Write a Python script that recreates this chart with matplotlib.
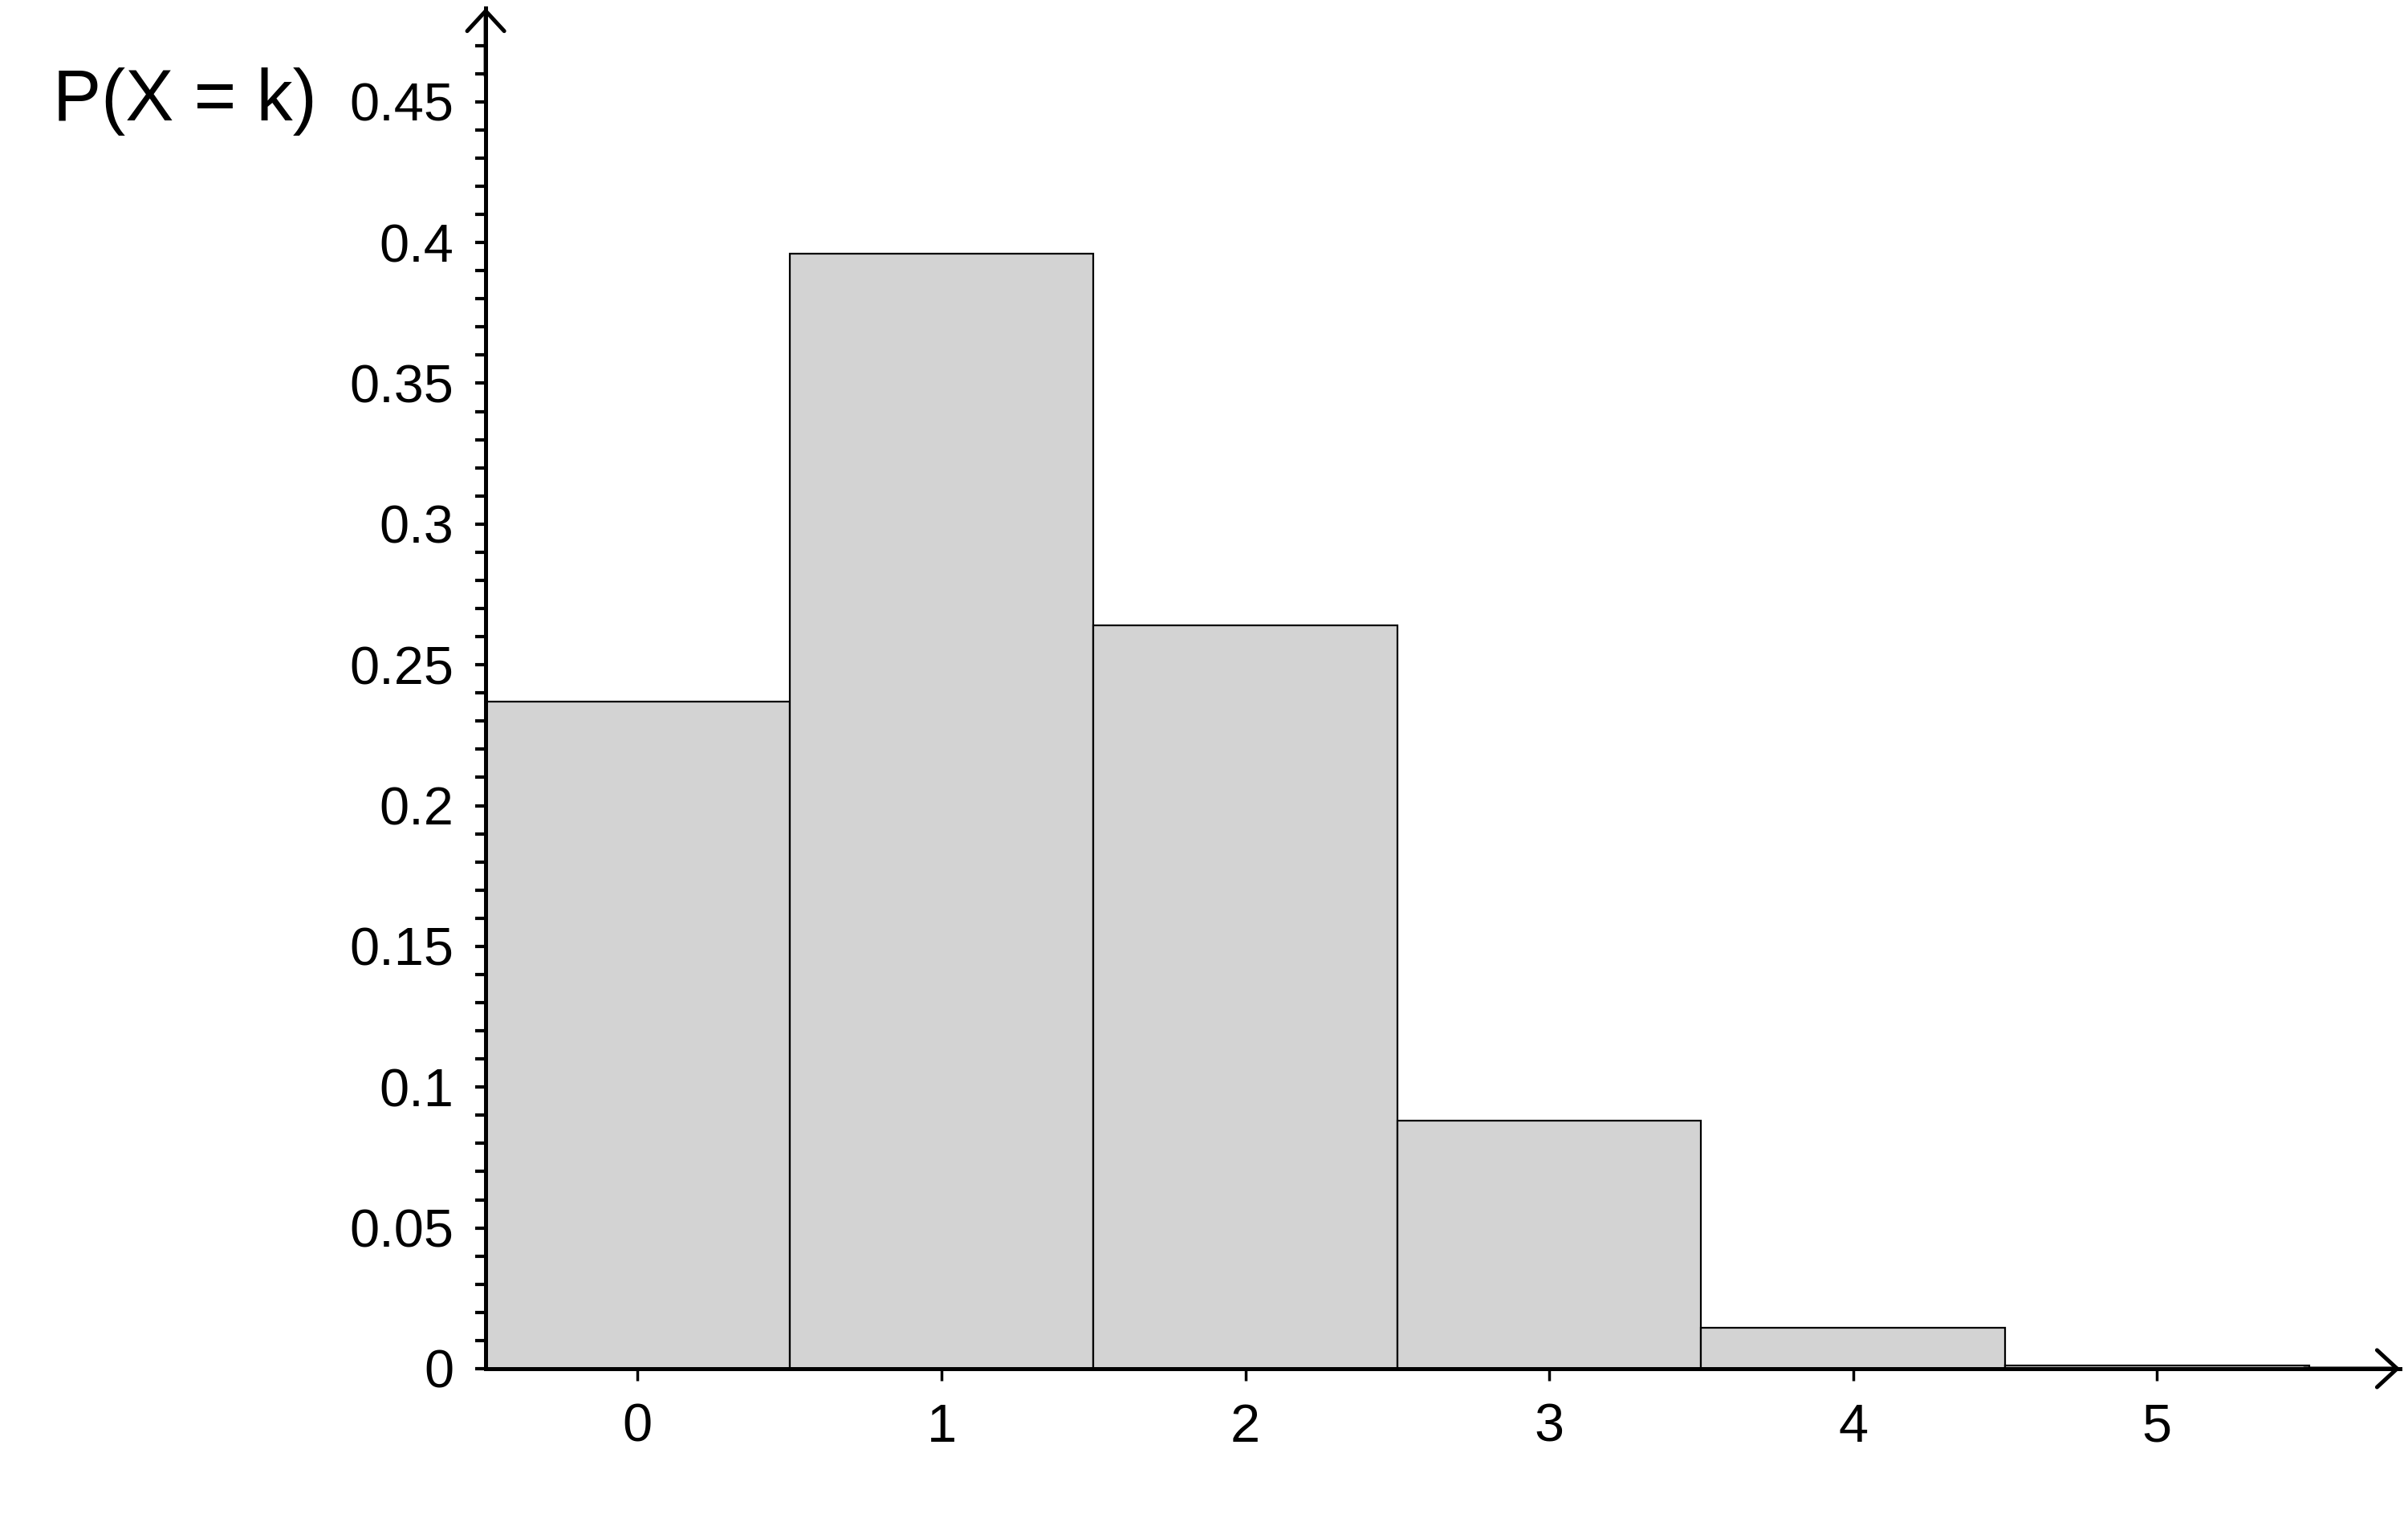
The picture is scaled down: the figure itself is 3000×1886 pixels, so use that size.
import numpy as np
import matplotlib.pyplot as plt
import matplotlib.transforms as mtransforms

plt.rcParams['font.family'] = ['Liberation Sans', 'DejaVu Sans']

# values
k_values = [0, 1, 2, 3, 4, 5]
probs = [0.237, 0.396, 0.264, 0.088, 0.0146, 0.001]
y_ticks = [0, 0.05, 0.1, 0.15, 0.2, 0.25, 0.3, 0.35, 0.4, 0.45]
y_tick_labels = ['0', '0.05', '0.1', '0.15', '0.2', '0.25', '0.3', '0.35', '0.4', '0.45']
x_tick_labels = ['0', '1', '2', '3', '4', '5']

fig = plt.figure(figsize=(30, 18.86), dpi=100)
ax = fig.add_axes([0.2017, 0.096, 0.795, 0.8987])

ax.bar(k_values, probs, width=1.0, color='#d3d3d3', edgecolor='black',
       linewidth=1.6, zorder=2)

ax.set_xlim(-0.5, 5.8)
ax.set_ylim(0, 0.4833)

ax.spines['top'].set_visible(False)
ax.spines['right'].set_visible(False)
ax.spines['left'].set_linewidth(3.6)
ax.spines['bottom'].set_linewidth(3.6)
ax.spines['left'].set_zorder(3)
ax.spines['bottom'].set_zorder(3)

ax.set_yticks(y_ticks)
ax.set_yticklabels(y_tick_labels)
ax.set_yticks(np.arange(0, 0.48, 0.01), minor=True)
ax.set_xticks(k_values)
ax.set_xticklabels(x_tick_labels)

ax.tick_params(axis='y', which='both', direction='out', length=9.5, width=3,
               labelsize=48, pad=19)
ax.tick_params(axis='x', which='major', direction='out', length=11, width=2.5,
               labelsize=48, pad=20)

# arrow heads at the ends of both axes
arrow_style = '->,head_length=0.9,head_width=0.83'
ax.annotate('', xy=(0, 1.0), xytext=(0, 0.95), xycoords='axes fraction',
            arrowprops=dict(arrowstyle=arrow_style, lw=3.6, color='black',
                            shrinkA=0, shrinkB=0, mutation_scale=20),
            annotation_clip=False)
ax.annotate('', xy=(1.0, 0), xytext=(0.95, 0), xycoords='axes fraction',
            arrowprops=dict(arrowstyle=arrow_style, lw=3.6, color='black',
                            shrinkA=0, shrinkB=0, mutation_scale=20),
            annotation_clip=False)

trans = mtransforms.blended_transform_factory(fig.transFigure, ax.transData)
ax.text(0.022, 0.45, 'P(X = k)', transform=trans, fontsize=65,
        ha='left', va='center')

fig.savefig('out.png', dpi=100)
